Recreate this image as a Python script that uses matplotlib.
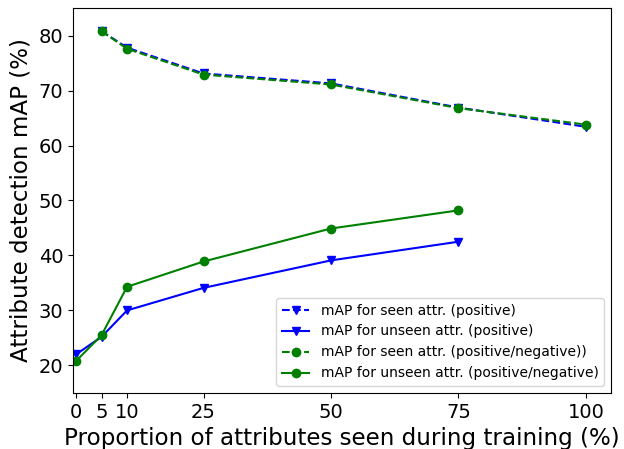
import matplotlib
matplotlib.use("Agg")
from matplotlib import pyplot as plt

# доли атрибутов, видимых при обучении
x_seen = [5, 10, 25, 50, 75, 100]
x_unseen = [0, 5, 10, 25, 50, 75]

seen_pos = [80.8, 77.8, 73.1, 71.3, 66.9, 63.4]
unseen_pos = [22.0, 25.2, 30.0, 34.1, 39.1, 42.5]
seen_posneg = [80.8, 77.6, 72.9, 71.1, 66.8, 63.8]
unseen_posneg = [20.8, 25.5, 34.3, 38.9, 44.9, 48.2]

xticks = [0, 5, 10, 25, 50, 75, 100]

fig = plt.figure(figsize=(6.24, 4.49), dpi=100)
ax = fig.add_axes([0.117, 0.125, 0.862, 0.857])

ax.plot(x_seen, seen_pos, "b--v", label="mAP for seen attr. (positive)")
ax.plot(x_unseen, unseen_pos, "b-v", label="mAP for unseen attr. (positive)")
ax.plot(x_seen, seen_posneg, "g--o", label="mAP for seen attr. (positive/negative))")
ax.plot(x_unseen, unseen_posneg, "g-o", label="mAP for unseen attr. (positive/negative)")

ax.set_xticks(xticks)
ax.set_xlim(-0.6, 104.9)
ax.set_ylim(15, 85)
ax.tick_params(labelsize=14)

ax.set_xlabel("Proportion of attributes seen during training (%)", fontsize=16.6)
ax.set_ylabel("Attribute detection mAP (%)", fontsize=16.6)

ax.legend(loc="lower right", fontsize=10)

fig.savefig("out.png")
